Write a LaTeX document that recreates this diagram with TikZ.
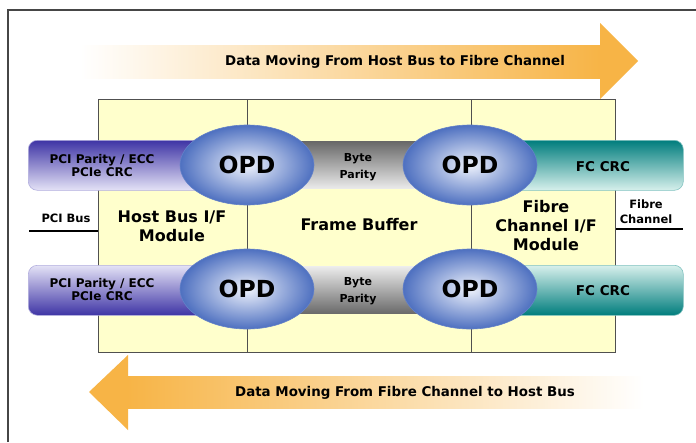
\documentclass[tikz,border=0pt]{standalone}
\usepackage{fontspec}
\setmainfont{DejaVu Sans}
\usetikzlibrary{shapes.geometric}
\definecolor{framegray}{RGB}{70,70,70}
\definecolor{boxfill}{RGB}{255,255,204}
\definecolor{boxline}{RGB}{80,80,80}
\definecolor{arroworange}{RGB}{247,180,70}
\definecolor{purpledark}{RGB}{62,52,165}
\definecolor{purplelight}{RGB}{228,226,246}
\definecolor{graydark}{RGB}{105,105,105}
\definecolor{graylight}{RGB}{235,235,235}
\definecolor{tealdark}{RGB}{0,125,125}
\definecolor{teallight}{RGB}{215,240,236}
\definecolor{opdin}{RGB}{238,242,252}
\definecolor{opdout}{RGB}{78,112,192}
\definecolor{opdline}{RGB}{100,130,200}
\tikzset{
  modbox/.style={draw=boxline, line width=1pt, fill=boxfill, anchor=north west, inner sep=0pt},
  barbase/.style={anchor=north west, inner sep=0pt, rounded corners=9pt, minimum height=50pt},
  purpletop/.style={barbase, top color=purpledark, bottom color=purplelight, draw=purplelight!70!purpledark, line width=0.6pt},
  purplebot/.style={barbase, top color=purplelight, bottom color=purpledark, draw=purplelight!70!purpledark, line width=0.6pt},
  graytop/.style={barbase, rounded corners=0pt, minimum height=47pt, top color=graydark, bottom color=graylight},
  graybot/.style={barbase, rounded corners=0pt, minimum height=47pt, top color=graylight, bottom color=graydark},
  tealtop/.style={barbase, top color=tealdark, bottom color=teallight, draw=teallight!60!tealdark, line width=0.6pt},
  tealbot/.style={barbase, top color=teallight, bottom color=tealdark, draw=teallight!60!tealdark, line width=0.6pt},
  opd/.style={ellipse, minimum width=134pt, minimum height=80pt, inner sep=0pt, draw=opdline, line width=0.6pt,
    inner color=opdin, outer color=opdout, font=\fontsize{23.5}{25}\selectfont\bfseries},
  lbl/.style={align=center, inner sep=0pt, font=\fontsize{12}{13}\selectfont\bfseries},
  smalllbl/.style={align=center, inner sep=0pt, font=\fontsize{11}{16.5}\selectfont\bfseries},
  modlbl/.style={align=center, inner sep=0pt, font=\fontsize{16}{19}\selectfont\bfseries},
  buslbl/.style={align=center, inner sep=0pt, font=\fontsize{11.5}{15}\selectfont\bfseries},
  arrowlbl/.style={inner sep=0pt, font=\fontsize{13.4}{15}\selectfont\bfseries},
  busline/.style={line width=2pt, black}
}
\begin{document}
\begin{tikzpicture}[x=1pt,y=-1pt]
\useasboundingbox (0,0) rectangle (696,442);
\fill[white] (0,0) rectangle (696,442);
\draw[framegray, line width=1.5pt] (8,442) -- (8,10) -- (696,10);
% top arrow
\shade[left color=white, right color=arroworange] (80,45) rectangle (601,78);
\fill[arroworange] (600,23) -- (638,61) -- (600,99) -- cycle;
\node[arrowlbl] (toptext) at (395,62) {Data Moving From Host Bus to Fibre Channel};
% bottom arrow
\shade[left color=arroworange, right color=white] (127,376) rectangle (644,408);
\fill[arroworange] (128,355) -- (89,392) -- (128,430) -- cycle;
\node[arrowlbl] (bottext) at (405,393) {Data Moving From Fibre Channel to Host Bus};
% module boxes
\node[modbox, minimum width=149pt, minimum height=253pt] (hostbox) at (98,99) {};
\node[modbox, minimum width=224pt, minimum height=253pt] (framebox) at (247,99) {};
\node[modbox, minimum width=144pt, minimum height=253pt] (fcbox) at (471,99) {};
% bus labels
\node[buslbl] (pcibus) at (66,218) {PCI Bus};
\coordinate (pcistart) at (29,231);
\draw[busline] (pcistart) -- (pcistart -| hostbox.west);
\node[buslbl] (fcbus) at (646,212) {Fibre\\Channel};
\coordinate (fcend) at (683,229);
\draw[busline] (fcend -| fcbox.east) -- (fcend);
% module labels
\node[modlbl] (hostlbl) at (172,226) {Host Bus I/F\\Module};
\node[modlbl] (framelbl) at (359,225) {Frame Buffer};
\node[modlbl] (fclbl) at (546,226) {Fibre\\Channel I/F\\Module};
% top row bars
\node[purpletop, minimum width=222pt] (pbar1) at (28,140) {};
\node[graytop, minimum width=230pt] (gbar1) at (245,141.5) {};
\node[tealtop, minimum width=218pt] (tbar1) at (465,140) {};
% bottom row bars
\node[purplebot, minimum width=222pt] (pbar2) at (28,265) {};
\node[graybot, minimum width=230pt] (gbar2) at (245,266.5) {};
\node[tealbot, minimum width=218pt] (tbar2) at (465,265) {};
% bar labels
\node[lbl] (pcitxt1) at (102,166) {PCI Parity / ECC\\PCIe CRC};
\node[smalllbl] (bytetxt1) at (358,167) {Byte\\Parity};
\node[lbl, font=\fontsize{13.5}{15}\selectfont\bfseries] (fctxt1) at (603,167) {FC CRC};
\node[lbl] (pcitxt2) at (102,290) {PCI Parity / ECC\\PCIe CRC};
\node[smalllbl] (bytetxt2) at (358,291) {Byte\\Parity};
\node[lbl, font=\fontsize{13.5}{15}\selectfont\bfseries] (fctxt2) at (603,291) {FC CRC};
% OPD ellipses
\node[opd] (opd1) at (247,165) {OPD};
\node[opd] (opd2) at (470,165) {OPD};
\node[opd] (opd3) at (247,289) {OPD};
\node[opd] (opd4) at (470,289) {OPD};
\end{tikzpicture}
\end{document}
